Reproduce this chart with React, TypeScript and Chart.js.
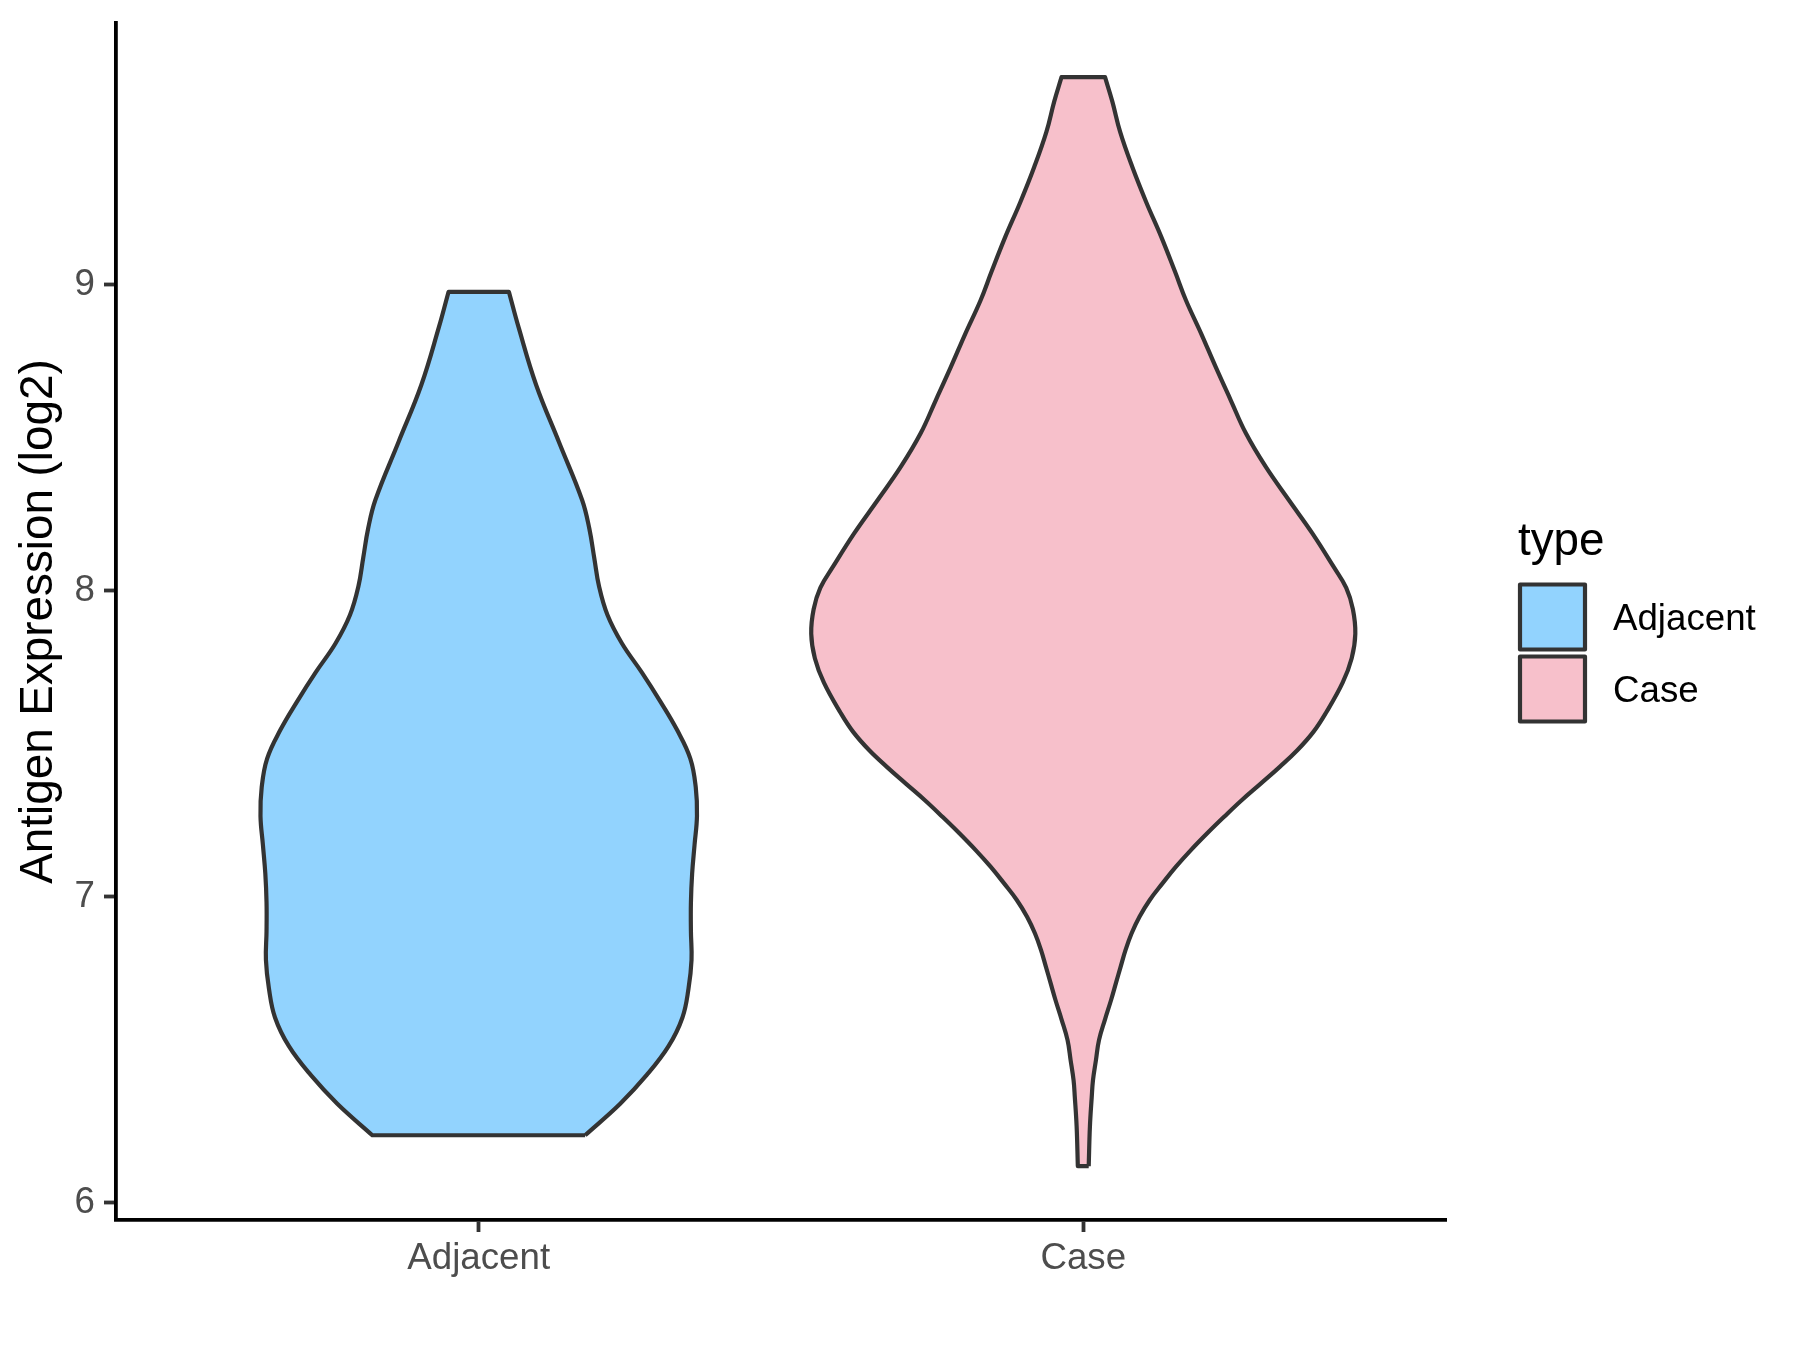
import React, { useEffect, useRef } from 'react';
import { Chart, registerables } from 'chart.js';

Chart.register(...registerables);

// ---------- data ----------
const CATEGORIES = ['Adjacent', 'Case'];
const CATEGORY_POS = [1, 2];
const Y_TICKS = [6, 7, 8, 9];
const Y_TITLE = 'Antigen Expression (log2)';
const LEGEND_TITLE = 'type';

// violin profiles: y value and half-width (in category units)
const ADJ_Y = [6.221, 6.324, 6.418, 6.512, 6.606, 6.700, 6.794, 6.888, 6.982, 7.076, 7.170, 7.264, 7.358, 7.452, 7.546, 7.640, 7.733, 7.828, 7.921, 8.015, 8.109, 8.203, 8.297, 8.485, 8.673, 8.861, 8.977];
const ADJ_W = [0.176, 0.234, 0.278, 0.314, 0.337, 0.347, 0.352, 0.351, 0.351, 0.353, 0.357, 0.361, 0.359, 0.350, 0.328, 0.300, 0.270, 0.237, 0.213, 0.199, 0.191, 0.183, 0.171, 0.133, 0.095, 0.066, 0.050];

const CASE_Y = [6.120, 6.250, 6.346, 6.400, 6.467, 6.532, 6.600, 6.663, 6.718, 6.773, 6.827, 6.881, 6.935, 6.990, 7.044, 7.098, 7.153, 7.208, 7.262, 7.316, 7.371, 7.425, 7.479, 7.540, 7.600, 7.700, 7.780, 7.860, 7.940, 8.010, 8.079, 8.188, 8.297, 8.405, 8.515, 8.623, 8.732, 8.841, 8.949, 9.042, 9.157, 9.271, 9.386, 9.500, 9.600, 9.679];
const CASE_W = [0.009, 0.011, 0.014, 0.016, 0.021, 0.026, 0.036, 0.046, 0.054, 0.062, 0.070, 0.080, 0.093, 0.110, 0.131, 0.153, 0.178, 0.205, 0.233, 0.262, 0.294, 0.325, 0.354, 0.381, 0.401, 0.429, 0.444, 0.450, 0.446, 0.435, 0.414, 0.379, 0.340, 0.302, 0.269, 0.244, 0.219, 0.195, 0.170, 0.152, 0.129, 0.104, 0.081, 0.061, 0.048, 0.036];

const PROFILES_Y = [ADJ_Y, CASE_Y];
const PROFILES_W = [ADJ_W, CASE_W];

// ---------- styles ----------
const FILLS = ['#92D3FE', '#F7C0CB'];
const OUTLINE = '#333333';
const FONT = "'Liberation Sans', Arial, Helvetica, sans-serif";
const TICK_FONT = 36.7;
const TITLE_FONT = 45.8;
const OUTLINE_W = 4.2;
const AXIS_W = 3.8;

function outline(center: number, ys: number[], ws: number[]) {
  const n = ys.length;
  const right = ys.map((y, i) => ({ x: center + ws[i], y }));
  const left = ys.map((y, i) => ({ x: center - ws[i], y })).reverse();
  // duplicate the flat-end corners so the spline keeps them sharp
  return [
    right[0],
    ...right,
    right[n - 1],
    left[0],
    ...left,
    left[n - 1],
    { ...right[0] },
  ];
}

const legendPlugin = {
  id: 'violinLegend',
  afterDraw(chart: any) {
    const { ctx, chartArea } = chart;
    const mid = (chartArea.top + chartArea.bottom) / 2;
    const left = chartArea.right + 72;
    ctx.save();
    ctx.textAlign = 'left';
    ctx.textBaseline = 'alphabetic';
    ctx.fillStyle = '#000000';
    ctx.font = `${TITLE_FONT}px ${FONT}`;
    ctx.fillText(LEGEND_TITLE, left, mid - 67);
    CATEGORIES.forEach((cat, i) => {
      const y0 = mid - 37 + i * 72;
      ctx.fillStyle = FILLS[i];
      ctx.fillRect(left + 2, y0, 65, 65);
      ctx.lineWidth = OUTLINE_W;
      ctx.lineJoin = 'round';
      ctx.strokeStyle = OUTLINE;
      ctx.strokeRect(left + 2, y0, 65, 65);
      ctx.fillStyle = '#000000';
      ctx.font = `${TICK_FONT}px ${FONT}`;
      ctx.fillText(cat, left + 95, y0 + 45);
    });
    ctx.restore();
  },
};

export default function App() {
  const ref = useRef<HTMLCanvasElement | null>(null);

  useEffect(() => {
    if (!ref.current) return;
    const datasets = CATEGORIES.map((cat, i) => ({
      label: cat,
      data: outline(CATEGORY_POS[i], PROFILES_Y[i], PROFILES_W[i]),
      showLine: true,
      borderColor: OUTLINE,
      borderWidth: OUTLINE_W,
      borderJoinStyle: 'round' as const,
      backgroundColor: FILLS[i],
      fill: 'shape' as any,
      pointRadius: 0,
      pointHoverRadius: 0,
      tension: 0.4,
    }));

    const axisGrid = {
      display: true,
      drawOnChartArea: false,
      drawTicks: true,
      tickLength: 12,
      tickWidth: AXIS_W,
      tickColor: OUTLINE,
    };
    const axisBorder = { display: true, color: '#000000', width: AXIS_W };

    const chart = new Chart(ref.current, {
      type: 'scatter',
      data: { datasets },
      options: {
        animation: false,
        responsive: false,
        devicePixelRatio: 1,
        layout: { padding: { top: 23, right: 354, bottom: 0, left: 0 } },
        plugins: {
          legend: { display: false },
          tooltip: { enabled: false },
        },
        events: [],
        scales: {
          x: {
            type: 'linear',
            min: 0.4,
            max: 2.6,
            afterBuildTicks: (s: any) => {
              s.ticks = CATEGORY_POS.map((v) => ({ value: v }));
            },
            afterFit: (s: any) => {
              s.height = 130;
              s.paddingLeft = 0;
              s.paddingRight = 0;
            },
            ticks: {
              autoSkip: false,
              maxRotation: 0,
              padding: 4.5,
              color: '#4D4D4D',
              font: { size: TICK_FONT, family: FONT },
              callback: (v: any) => {
                const idx = CATEGORY_POS.indexOf(Number(v));
                return idx >= 0 ? CATEGORIES[idx] : '';
              },
            },
            grid: axisGrid,
            border: axisBorder,
          },
          y: {
            type: 'linear',
            min: 5.944,
            max: 9.856,
            afterBuildTicks: (s: any) => {
              s.ticks = Y_TICKS.map((v) => ({ value: v }));
            },
            afterFit: (s: any) => {
              s.width = 116;
              s.paddingTop = 0;
              s.paddingBottom = 0;
            },
            ticks: {
              padding: 9,
              color: '#4D4D4D',
              font: { size: TICK_FONT, family: FONT },
              callback: (v: any) => String(v),
            },
            grid: axisGrid,
            border: axisBorder,
            title: {
              display: true,
              text: Y_TITLE,
              color: '#000000',
              font: { size: TITLE_FONT, family: FONT },
              padding: { top: 12, bottom: 0 },
            },
          },
        },
      },
      plugins: [legendPlugin],
    });
    return () => chart.destroy();
  }, []);

  return (
    <div style={{ position: 'absolute', left: 0, top: 0, width: 1800, height: 1350, background: '#ffffff' }}>
      <canvas ref={ref} width={1800} height={1350} style={{ display: 'block' }} />
    </div>
  );
}
